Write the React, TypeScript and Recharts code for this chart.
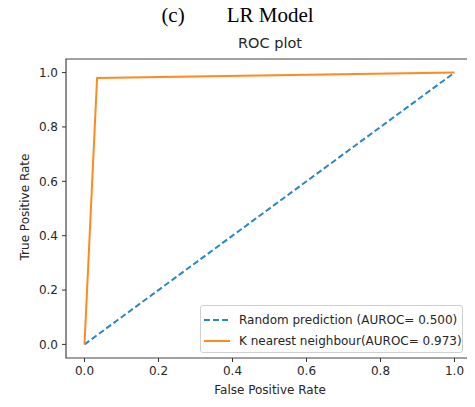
import { LineChart, Line, XAxis, YAxis, ReferenceArea } from 'recharts';

// values
const randomFpr = [0, 1];
const randomTpr = [0, 1];
const knnFpr = [0, 0.034, 1];
const knnTpr = [0, 0.98, 1];
const xTicks = [0, 0.2, 0.4, 0.6, 0.8, 1.0];
const yTicks = [0, 0.2, 0.4, 0.6, 0.8, 1.0];
const domain: [number, number] = [-0.05, 1.05];

const seriesNames = ['Random prediction (AUROC= 0.500)', 'K nearest neighbour(AUROC= 0.973)'];
const BLUE = '#2a86c4';
const ORANGE = '#ff8a1e';
const FONT = '"DejaVu Sans", sans-serif';

const toPoints = (xs: number[], ys: number[]) => xs.map((x, i) => ({ x, y: ys[i] }));

const randomData = toPoints(randomFpr, randomTpr);
const knnData = toPoints(knnFpr, knnTpr);

const tickStyle = { fontSize: 12, fontFamily: FONT, fill: '#262626' };

export default function App() {
  return (
    <div style={{ position: 'relative', width: 475, height: 407, margin: -8, background: '#fff' }}>
      <div
        style={{
          position: 'absolute', left: 0, width: 475, top: 3, textAlign: 'center',
          fontFamily: '"Liberation Serif", serif', fontSize: 21, color: '#000', whiteSpace: 'pre',
        }}
      >
        {'(c)        LR Model'}
      </div>
      <div
        style={{
          position: 'absolute', left: 66, width: 408, top: 35, textAlign: 'center',
          fontFamily: FONT, fontSize: 14.5, color: '#262626',
        }}
      >
        ROC plot
      </div>
      <LineChart width={475} height={407} margin={{ top: 59, right: 2, bottom: 19, left: 16 }}>
        <XAxis
          type="number"
          dataKey="x"
          domain={domain}
          ticks={xTicks}
          allowDataOverflow
          height={30}
          tickSize={4}
          tickMargin={4}
          tick={tickStyle}
          tickFormatter={(v: number) => v.toFixed(1)}
          stroke="#333"
          axisLine={false}
        />
        <YAxis
          type="number"
          dataKey="y"
          domain={domain}
          ticks={yTicks}
          allowDataOverflow
          width={50}
          tickSize={4}
          tickMargin={4}
          tick={tickStyle}
          tickFormatter={(v: number) => v.toFixed(1)}
          stroke="#333"
          axisLine={false}
        />
        <ReferenceArea
          x1={domain[0]}
          x2={domain[1]}
          y1={domain[0]}
          y2={domain[1]}
          fill="none"
          stroke="#444"
          strokeWidth={1.2}
          ifOverflow="visible"
        />
        <Line
          data={randomData}
          dataKey="y"
          type="linear"
          stroke={BLUE}
          strokeWidth={2}
          strokeDasharray="6 3"
          dot={false}
          isAnimationActive={false}
        />
        <Line
          data={knnData}
          dataKey="y"
          type="linear"
          stroke={ORANGE}
          strokeWidth={2}
          dot={false}
          isAnimationActive={false}
        />
      </LineChart>
      <div
        style={{
          position: 'absolute', left: 66, width: 408, top: 383, textAlign: 'center',
          fontFamily: FONT, fontSize: 12, color: '#262626',
        }}
      >
        False Positive Rate
      </div>
      <div
        style={{
          position: 'absolute', left: 25, top: 208, width: 0, height: 0,
        }}
      >
        <div
          style={{
            position: 'absolute', left: -80, top: -8, width: 160, textAlign: 'center',
            transform: 'rotate(-90deg)', fontFamily: FONT, fontSize: 12, color: '#262626',
          }}
        >
          True Positive Rate
        </div>
      </div>
      <div
        style={{
          position: 'absolute', left: 200, top: 305, width: 263, height: 48, boxSizing: 'border-box',
          border: '1px solid #d0d0d0', borderRadius: 3, background: 'rgba(255,255,255,0.8)',
          fontFamily: FONT, fontSize: 12, color: '#262626',
        }}
      >
        {seriesNames.map((name, i) => (
          <div key={name} style={{ position: 'absolute', left: 3, top: 5 + i * 21, height: 18, display: 'flex', alignItems: 'center', whiteSpace: 'nowrap' }}>
            <svg width={26} height={6} style={{ marginRight: 9 }}>
              <line
                x1={0} y1={3} x2={26} y2={3}
                stroke={i === 0 ? BLUE : ORANGE}
                strokeWidth={2}
                strokeDasharray={i === 0 ? '6 3' : undefined}
              />
            </svg>
            {name}
          </div>
        ))}
      </div>
    </div>
  );
}
